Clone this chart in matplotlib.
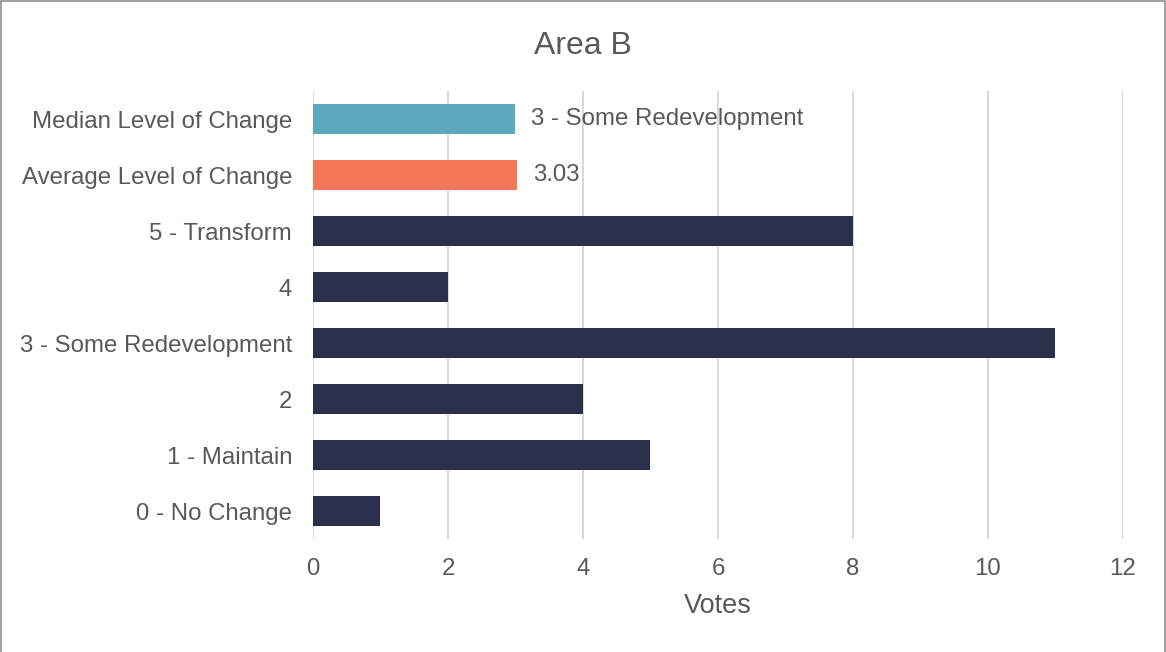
import matplotlib.pyplot as plt
from matplotlib.patches import Rectangle

# data, bottom to top
categories = ["0 - No Change", "1 - Maintain", "2", "3 - Some Redevelopment",
              "4", "5 - Transform", "Average Level of Change", "Median Level of Change"]
votes = [1, 5, 4, 11, 2, 8, 3.03, 3]
bar_colors = ["#2B2F4C"] * 6 + ["#F47857", "#5BA9BD"]
bar_labels = [""] * 6 + ["3.03", "3 - Some Redevelopment"]
xticks = [0, 2, 4, 6, 8, 10, 12]

plt.rcParams['font.family'] = ['Liberation Sans', 'DejaVu Sans']
txt = "#595959"

fig = plt.figure(figsize=(11.66, 6.52), dpi=100)
ax = fig.add_axes([0.2684, 0.1733, 0.6947, 0.6871])

bars = ax.barh(range(len(categories)), votes, height=0.55, color=bar_colors, zorder=3)
ax.bar_label(bars, labels=bar_labels, padding=11, fontsize=17.3, color=txt)

ax.set_xlim(0, 12)
ax.set_ylim(-0.5, len(categories) - 0.5)
ax.set_xticks(xticks)
ax.set_yticks(range(len(categories)))
ax.set_yticklabels(categories)
ax.tick_params(axis='both', length=0, labelsize=17.3, labelcolor=txt)
ax.tick_params(axis='x', pad=14)
ax.tick_params(axis='y', pad=15)
ax.grid(axis='x', color="#D9D9D9", linewidth=1.5, zorder=0)
for s in ax.spines.values():
    s.set_visible(False)

ax.set_xlabel("Votes", fontsize=19.5, color=txt, labelpad=9)
fig.text(0.5, 0.929, "Area B", ha='center', va='center', fontsize=23, color=txt)

# chart border (bottom edge cut off)
fig.patches.append(Rectangle((0.0006, -0.05), 0.9982, 1.048, transform=fig.transFigure,
                             fill=False, edgecolor="#8F8F8F", linewidth=1.2))

fig.savefig("out.png", dpi=100)
